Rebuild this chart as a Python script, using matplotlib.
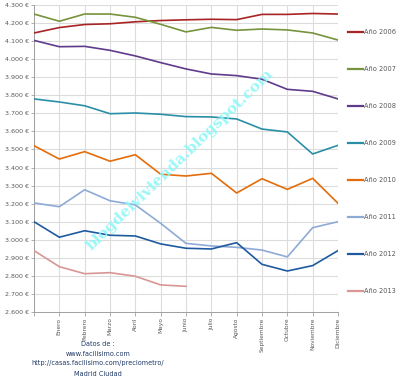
import matplotlib
matplotlib.use("Agg")
import matplotlib.pyplot as plt
from matplotlib.lines import Line2D
from matplotlib.ticker import FuncFormatter

months = ["", "Enero", "Febrero", "Marzo", "Abril", "Mayo", "Junio", "Julio",
          "Agosto", "Septiembre", "Octubre", "Noviembre", "Diciembre"]

y2006 = [4145, 4175, 4192, 4196, 4207, 4214, 4218, 4221, 4219, 4248, 4248, 4253, 4250]
y2007 = [4250, 4210, 4250, 4250, 4232, 4193, 4151, 4176, 4160, 4167, 4162, 4145, 4106]
y2008 = [4104, 4069, 4071, 4049, 4018, 3981, 3946, 3918, 3909, 3889, 3833, 3822, 3780]
y2009 = [3780, 3763, 3742, 3698, 3702, 3695, 3682, 3680, 3669, 3613, 3597, 3475, 3523]
y2010 = [3521, 3447, 3488, 3435, 3471, 3363, 3353, 3368, 3259, 3338, 3279, 3340, 3202]
y2011 = [3204, 3183, 3277, 3216, 3193, 3091, 2980, 2966, 2958, 2943, 2905, 3067, 3100]
y2012 = [3100, 3014, 3050, 3025, 3021, 2977, 2953, 2949, 2984, 2864, 2827, 2857, 2940]
y2013 = [2940, 2851, 2812, 2818, 2798, 2750, 2742]

series = [
    ("Año 2006", y2006, "#a82424"),
    ("Año 2007", y2007, "#77933c"),
    ("Año 2008", y2008, "#5f3b8c"),
    ("Año 2009", y2009, "#2a8fa6"),
    ("Año 2010", y2010, "#e46c0a"),
    ("Año 2011", y2011, "#8eaad6"),
    ("Año 2012", y2012, "#1f5aa0"),
    ("Año 2013", y2013, "#d99694"),
]

W, H = 400, 378
fig = plt.figure(figsize=(W / 100, H / 100), dpi=100)
ax = fig.add_axes([34 / W, 1 - 312 / H, (338 - 34) / W, (312 - 5) / H])

for name, vals, col in series:
    ax.plot(range(len(vals)), vals, color=col, lw=1.2, label=name, zorder=3)

ax.set_xlim(0, 12)
ax.set_ylim(2600, 4300)
ax.set_yticks(range(2600, 4301, 100))
ax.yaxis.set_major_formatter(FuncFormatter(
    lambda v, p: "{:,.0f} €".format(v).replace(",", ".")))
ax.set_xticks(range(13))
ax.set_xticklabels(months, rotation=90, fontsize=4.2, color="#595959")
ax.tick_params(axis="y", labelsize=4.6, labelcolor="#595959", length=2,
               color="#a0a0a0", width=0.6, pad=1.5)
ax.tick_params(axis="x", length=3, color="#a0a0a0", width=0.6, pad=1.0)
ax.grid(True, color="#dcdcdc", lw=0.8, zorder=0)
for s in ["top", "right"]:
    ax.spines[s].set_visible(False)
for s in ["left", "bottom"]:
    ax.spines[s].set_color("#a0a0a0")
    ax.spines[s].set_linewidth(0.7)

# legend entries placed on the right side
for i, (name, vals, col) in enumerate(series):
    yy = 1 - (32 + 37 * i) / H
    fig.add_artist(Line2D([348 / W, 363 / W], [yy, yy], color=col, lw=1.6,
                          transform=fig.transFigure))
    fig.text(364 / W, yy, name, fontsize=4.8, color="#595959",
             ha="left", va="center")

# watermark
fig.text(0.45, 0.578, "blogdelvivienda.blogspot.com", rotation=44,
         fontsize=11, color="#8ff7f7", fontweight="bold",
         family="DejaVu Serif", ha="center", va="center", alpha=0.9,
         zorder=5)

# source text
fig.text(98 / W, 1 - 358.5 / H,
         "Datos de :\nwww.facilisimo.com\nhttp://casas.facilisimo.com/preciometro/\nMadrid Ciudad",
         fontsize=4.7, color="#1f3864", ha="center", va="center",
         linespacing=1.8)

fig.savefig("out.png", dpi=100)
